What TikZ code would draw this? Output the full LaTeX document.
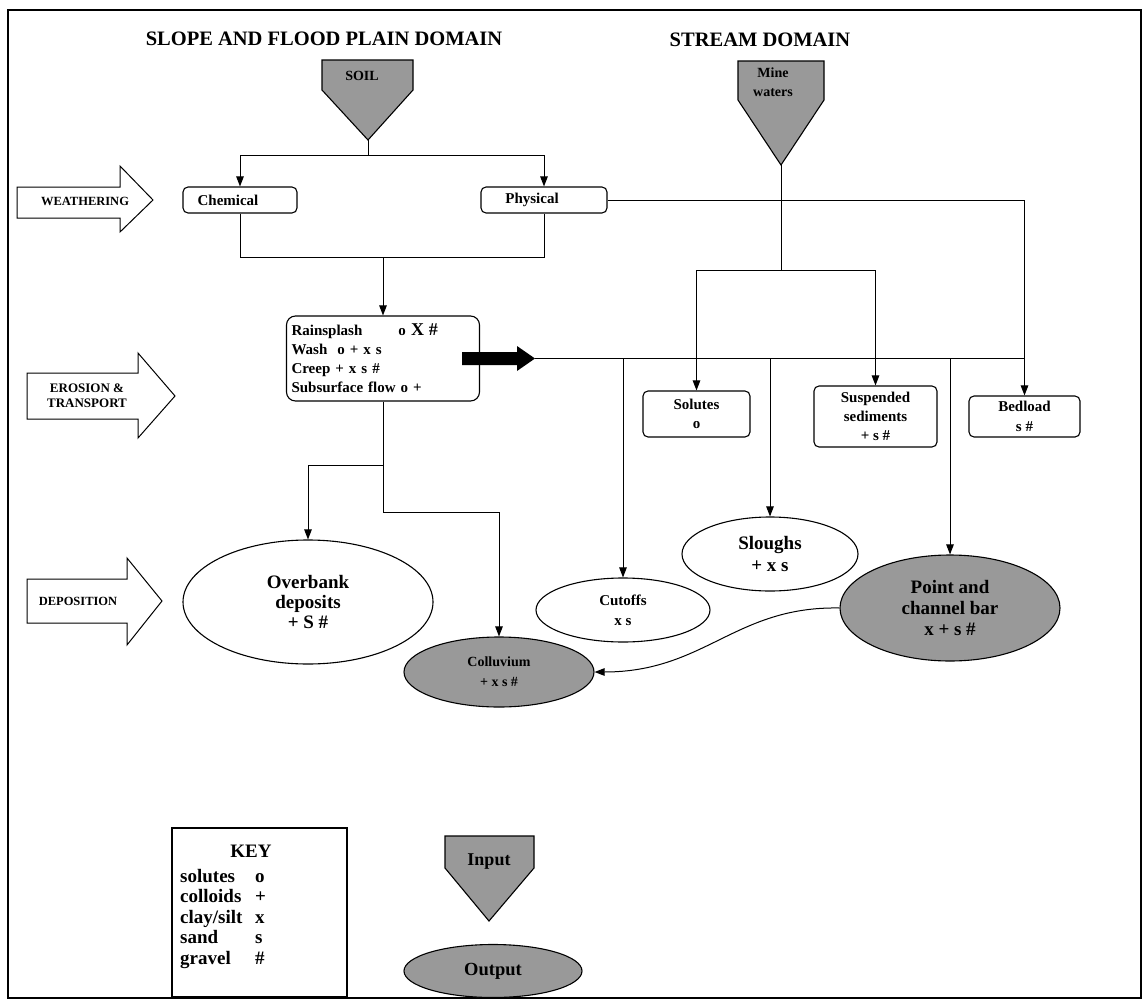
\documentclass[tikz,border=0pt]{standalone}
\usepackage{fontspec}
\setmainfont{Liberation Serif}
\usetikzlibrary{arrows.meta,shapes.geometric}
\newcommand\fsz[2]{\fontsize{#1}{#2}\selectfont}
\begin{document}
\begin{tikzpicture}[x=1pt,y=-1pt,
  every node/.style={font=\bfseries},
  ln/.style={line width=1pt},
  arr/.style={line width=1pt,-{Triangle[length=10pt,width=7.5pt]}},
  rbox/.style={draw,line width=1.1pt,rounded corners=5pt,inner sep=0pt,align=center},
  ell/.style={draw,ellipse,line width=1.1pt,inner sep=0pt,align=center},
  shade/.style={fill=black!40},
  bigarrow/.style={draw,line width=1pt,fill=white},
]
\useasboundingbox (0,0) rectangle (1144,1001);
\draw[line width=1.1pt] (8,10) rectangle (1141,998);

% titles
\node[font=\bfseries\fsz{20.5}{22}] (t1) at (324,39) {SLOPE AND FLOOD PLAIN DOMAIN};
\node[font=\bfseries\fsz{20.5}{22}] (t2) at (760,40) {STREAM DOMAIN};

% inputs
\draw[shade,line width=1.1pt] (322,60) -- (413,60) -- (413,90) -- (368,140) -- (322,90) -- cycle;
\node[font=\bfseries\fsz{14}{16}] (soil) at (362,76) {SOIL};
\coordinate (soiltip) at (368,140);
\draw[shade,line width=1.1pt] (738,61) -- (824,61) -- (824,100) -- (781,165) -- (738,100) -- cycle;
\node[font=\bfseries\fsz{14}{19},align=center] (mine) at (773,82) {Mine\\waters};
\coordinate (minetip) at (781,165);

% side arrows
\draw[bigarrow] (17,187) -- (120,187) -- (120,166) -- (153,200) -- (120,232) -- (120,218) -- (17,218) -- cycle;
\node[font=\bfseries\fsz{12.5}{14}] (wea) at (85,201) {WEATHERING};
\draw[bigarrow] (27,373) -- (138,373) -- (138,353) -- (175,396) -- (138,438) -- (138,419) -- (27,419) -- cycle;
\node[font=\bfseries\fsz{13}{15},align=center] (ero) at (87,396) {EROSION \&\\TRANSPORT};
\draw[bigarrow] (27,579) -- (127,579) -- (127,558) -- (162,601) -- (127,645) -- (127,623) -- (27,623) -- cycle;
\node[font=\bfseries\fsz{12.5}{14}] (dep) at (78,601) {DEPOSITION};

% boxes
\node[rbox,minimum width=114,minimum height=26,font=\bfseries\fsz{15}{17}] (chem) at (240,200) {Chemical\hspace*{24pt}};
\node[rbox,minimum width=126,minimum height=26,font=\bfseries\fsz{15}{17}] (phys) at (544,200) {Physical\hspace*{24pt}};
\node[rbox,rounded corners=9pt,minimum width=193,minimum height=85,text width=183,align=left,font=\bfseries\fsz{15}{19}] (rain) at (383,358.5)
  {\makebox[107pt][l]{Rainsplash}o {\fsz{18}{19}X \#}\\Wash\ \ o + x s\\Creep + x s \#\\Subsurface flow o +};
\node[rbox,minimum width=107,minimum height=46,font=\bfseries\fsz{15}{19}] (sol) at (696.5,414) {Solutes\\o};
\node[rbox,minimum width=123,minimum height=61,font=\bfseries\fsz{15}{19}] (susp) at (875.5,416.5) {Suspended\\sediments\\+ s \#};
\node[rbox,minimum width=111,minimum height=41,font=\bfseries\fsz{15}{20}] (bed) at (1024.5,416.5) {Bedload\\s \#};

% ellipses
\node[ell,minimum width=250,minimum height=124,font=\bfseries\fsz{19}{20}] (ovb) at (308,602) {Overbank\\deposits\\+ S \#};
\node[ell,shade,minimum width=190,minimum height=70,font=\bfseries\fsz{14}{20}] (col) at (499,672) {Colluvium\\+ x s \#};
\node[ell,minimum width=174,minimum height=64,font=\bfseries\fsz{15}{20}] (cut) at (623,610) {Cutoffs\\x s};
\node[ell,minimum width=176,minimum height=74,font=\bfseries\fsz{19}{22}] (slo) at (770,554) {Sloughs\\+ x s};
\node[ell,shade,minimum width=220,minimum height=106,font=\bfseries\fsz{19}{21}] (pb) at (950,608) {Point and\\channel bar\\x + s \#};

% key
\draw[line width=1.1pt] (172,828) rectangle (347,997);
\node[font=\bfseries\fsz{19}{21}] (keyt) at (251,851) {KEY};
\node[anchor=north west,align=left,inner sep=0pt,font=\bfseries\fsz{19}{20.5}] (keyl) at (180,869)
  {\makebox[75pt][l]{solutes}o\\\makebox[75pt][l]{colloids}+\\\makebox[75pt][l]{clay/silt}x\\\makebox[75pt][l]{sand}s\\\makebox[75pt][l]{gravel}\#};
\draw[shade,line width=1.1pt] (445,836) -- (534,836) -- (534,868) -- (489,921) -- (445,868) -- cycle;
\node[font=\bfseries\fsz{18}{20}] (inp) at (489,862) {Input};
\node[ell,shade,minimum width=178,minimum height=53,font=\bfseries\fsz{18.5}{20}] (outp) at (493,971) {Output};

% connectors
\draw[ln] (soiltip) -- (368,155) coordinate (sj);
\draw[arr] (sj) -| (chem.north);
\draw[arr] (sj) -| (phys.north);
\draw[ln] (chem.south) -- ++(0,44) -| (phys.south);
\coordinate (cj) at (383,257);
\draw[arr] (cj) -- (rain.north);
\draw[arr] (phys.east) -| (bed.north);
\draw[ln] (minetip) -- ++(0,105) coordinate (mj);
\draw[arr] (mj) -| (sol.north);
\draw[arr] (mj) -| (susp.north);

\fill (462,352) -- (517,352) -- (517,346) -- (535,358.5) -- (517,371) -- (517,365) -- (462,365) -- cycle;
\coordinate (bigtip) at (535,358.5);
\draw[ln] (bigtip) -- (bed.north |- bigtip);
\draw[arr] (cut.north |- bigtip) -- (cut.north);
\draw[arr] (slo.north |- bigtip) -- (slo.north);
\draw[arr] (pb.north |- bigtip) -- (pb.north);

\draw[ln] (rain.south) -- ++(0,64) coordinate (rj);
\draw[arr] (rj) -| (ovb.north);
\draw[arr] (rj) -- ++(0,47) -| (col.north);
\draw[arr] (pb.west) .. controls (735,606) and (705,672) .. (col.east);
\end{tikzpicture}
\end{document}
